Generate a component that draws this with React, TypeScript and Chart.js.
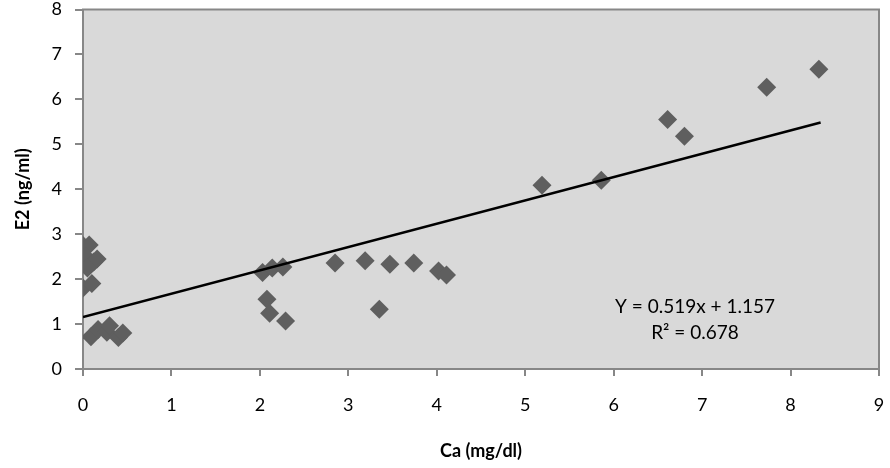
import React, { useEffect, useRef } from "react";
import { Chart, registerables } from "chart.js";

Chart.register(...registerables);

// Scatter data (Ca mg/dl, E2 ng/ml)
const caValues = [
  0.0, 0.07, 0.03, 0.12, 0.16, 0.05, 0.0, 0.1,
  0.09, 0.17, 0.27, 0.3, 0.4, 0.45,
  2.03, 2.14, 2.26, 2.85, 3.19, 3.47, 3.74, 4.02, 4.11, 2.08, 2.11, 2.29, 3.35,
  5.19, 5.86, 6.61, 6.8, 7.73, 8.32,
];
const e2Values = [
  2.75, 2.76, 2.5, 2.38, 2.45, 2.25, 1.8, 1.9,
  0.72, 0.88, 0.82, 0.96, 0.7, 0.8,
  2.15, 2.25, 2.27, 2.36, 2.41, 2.33, 2.36, 2.18, 2.09, 1.55, 1.24, 1.07, 1.33,
  4.09, 4.2, 5.55, 5.18, 6.27, 6.67,
];

// Trend line end points (Y = 0.519x + 1.157)
const trendX = [0, 8.34];
const trendY = [1.157, 5.485];

const equationLines = ["Y = 0.519x + 1.157", "R² = 0.678"];
const xTitle = "Ca (mg/dl)";
const yTitle = "E2 (ng/ml)";

const FONT = "Lato, 'Liberation Sans', sans-serif";
const AXIS_GRAY = "#878787";

function zeroPad(scale: any) {
  scale.paddingTop = 0;
  scale.paddingBottom = 0;
  scale.paddingLeft = 0;
  scale.paddingRight = 0;
}

export default function App() {
  const ref = useRef<HTMLCanvasElement | null>(null);

  useEffect(() => {
    if (!ref.current) return;
    const bgPlugin = {
      id: "plotBg",
      beforeDatasetsDraw(chart: any) {
        const { ctx, chartArea } = chart;
        ctx.save();
        ctx.fillStyle = "#d9d9d9";
        ctx.fillRect(chartArea.left, chartArea.top, chartArea.right - chartArea.left, chartArea.bottom - chartArea.top);
        ctx.strokeStyle = AXIS_GRAY;
        ctx.lineWidth = 2;
        ctx.strokeRect(chartArea.left, chartArea.top, chartArea.right - chartArea.left, chartArea.bottom - chartArea.top);
        ctx.restore();
      },
      afterDatasetsDraw(chart: any) {
        const { ctx, chartArea } = chart;
        ctx.save();
        ctx.fillStyle = "#000";
        ctx.font = `19px ${FONT}`;
        ctx.textAlign = "center";
        ctx.textBaseline = "middle";
        const cx = chartArea.left + 612;
        ctx.fillText(equationLines[0], cx, chartArea.top + 297);
        ctx.fillText(equationLines[1], cx, chartArea.top + 323);
        ctx.restore();
      },
    };

    const chart = new Chart(ref.current, {
      type: "scatter",
      data: {
        datasets: [
          {
            type: "line",
            data: trendX.map((x, i) => ({ x, y: trendY[i] })),
            borderColor: "#000",
            borderWidth: 2.5,
            pointRadius: 0,
            fill: false,
            order: 0,
          } as any,
          {
            data: caValues.map((x, i) => ({ x, y: e2Values[i] })),
            pointStyle: "rectRot",
            pointRadius: 9.5,
            backgroundColor: "#5f5f5f",
            borderColor: "#5f5f5f",
            borderWidth: 0,
            order: 1,
          },
        ],
      },
      options: {
        responsive: false,
        animation: false,
        layout: { padding: { top: 9, right: 11, bottom: 0, left: 0 } },
        plugins: { legend: { display: false }, tooltip: { enabled: false } },
        scales: {
          x: {
            type: "linear",
            min: 0,
            max: 9,
            afterFit(scale: any) {
              scale.height = 99;
              zeroPad(scale);
            },
            ticks: { stepSize: 1, color: "#000", font: { family: FONT, size: 18 }, padding: 18, maxRotation: 0 },
            grid: { drawOnChartArea: false, drawTicks: true, tickLength: 7, color: AXIS_GRAY, lineWidth: 2 },
            border: { display: false },
            title: {
              display: true,
              text: xTitle,
              color: "#000",
              font: { family: FONT, size: 18, weight: "bold" },
              padding: { top: 0, bottom: 6 },
            },
          },
          y: {
            type: "linear",
            min: 0,
            max: 8,
            afterFit(scale: any) {
              scale.width = 83;
              zeroPad(scale);
            },
            ticks: { stepSize: 1, color: "#000", font: { family: FONT, size: 18 }, padding: 13 },
            grid: { drawOnChartArea: false, drawTicks: true, tickLength: 8, color: AXIS_GRAY, lineWidth: 2 },
            border: { display: false },
            title: {
              display: true,
              text: yTitle,
              color: "#000",
              font: { family: FONT, size: 18, weight: "bold" },
              padding: { top: 12, bottom: 0 },
            },
          },
        },
      },
      plugins: [bgPlugin],
    } as any);
    return () => chart.destroy();
  }, []);

  return (
    <canvas
      ref={ref}
      width={890}
      height={468}
      style={{ position: "fixed", left: 0, top: 0, width: 890, height: 468, display: "block" }}
    />
  );
}
